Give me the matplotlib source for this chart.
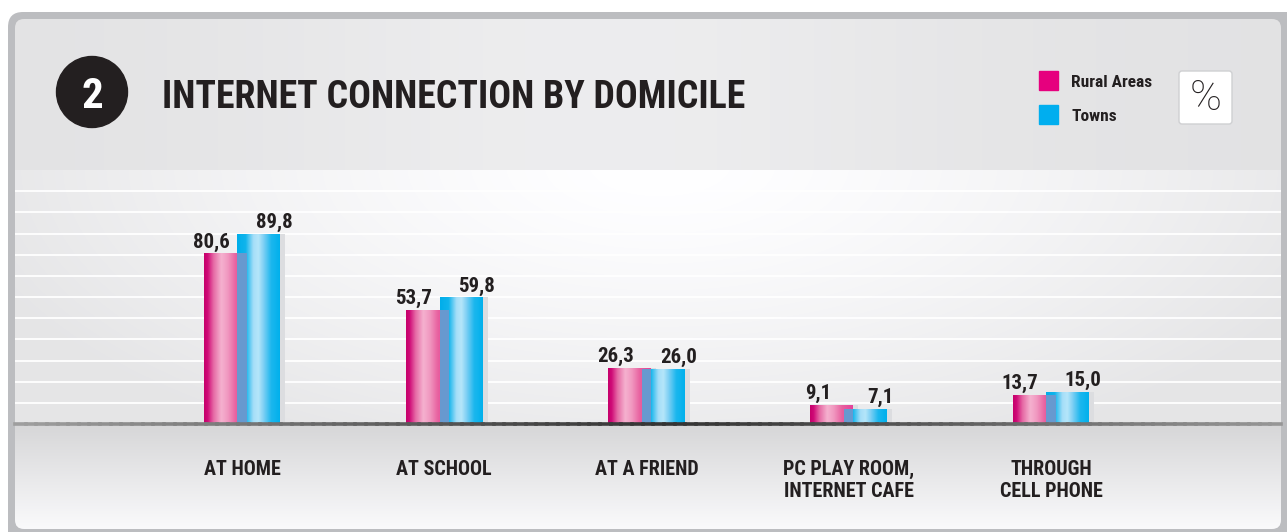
import numpy as np
import matplotlib.pyplot as plt
from matplotlib.colors import LinearSegmentedColormap
from matplotlib.patches import FancyBboxPatch, Rectangle, Circle
from matplotlib.collections import LineCollection
import logging

logging.getLogger('matplotlib.font_manager').setLevel(logging.ERROR)

categories = ['AT HOME', 'AT SCHOOL', 'AT A FRIEND',
              'PC PLAY ROOM,\nINTERNET CAFE', 'THROUGH\nCELL PHONE']
rural = [80.6, 53.7, 26.3, 9.1, 13.7]
towns = [89.8, 59.8, 26.0, 7.1, 15.0]
series_names = ['Rural Areas', 'Towns']

W, H = 1287, 532
NARROW = ['Roboto Condensed', 'Archivo Narrow', 'Liberation Sans Narrow', 'DejaVu Sans']
DARK = '#231f20'

fig = plt.figure(figsize=(W / 100, H / 100), dpi=100)
fig.patch.set_facecolor('white')

# background / card, in pixel coordinates
bg = fig.add_axes([0, 0, 1, 1])
bg.set_xlim(0, W)
bg.set_ylim(H, 0)
bg.axis('off')

outer = FancyBboxPatch((8, 12), 1300, 540, boxstyle='round,pad=0,rounding_size=15',
                       fc='#bcbdc0', ec='none')
bg.add_patch(outer)
inner = FancyBboxPatch((15, 19), 1266, 510, boxstyle='round,pad=0,rounding_size=9',
                       fc='none', ec='none')
bg.add_patch(inner)

yy, xx = np.mgrid[0:H, 0:W] + 0.5
hdr = (226 + 11 * np.exp(-((xx - 600) / 380) ** 2)) / 255
r = np.clip(np.sqrt(((xx - 660) / 720) ** 2 + ((yy - 165) / 320) ** 2), 0, 1)
band = (255 - 26 * r ** 1.4) / 255
bot = (214 + 36 * np.clip((yy - 424) / 105, 0, 1)) / 255
v = np.where(yy < 170, hdr, np.where(yy < 424, band, bot))
rgb = np.dstack([v, v, np.clip(v * 1.006, 0, 1)])
im = bg.imshow(rgb, extent=(0, W, H, 0), aspect='auto', zorder=1)
im.set_clip_path(inner)

# header
bg.add_patch(Circle((92, 92), 35.5, color=DARK, zorder=3))
bg.text(92, 108, '2', ha='center', va='baseline', fontsize=31, weight='bold',
        family=NARROW, color='white', zorder=4)
bg.text(162, 108, 'INTERNET CONNECTION BY DOMICILE', ha='left', va='baseline',
        fontsize=27.3, weight='bold', family=NARROW, color=DARK, zorder=4)

bg.add_patch(Rectangle((1039, 71), 19, 19, color='#e6007e', zorder=3))
bg.add_patch(Rectangle((1039, 105), 19, 19, color='#00aeef', zorder=3))
bg.text(1071, 87, series_names[0], va='baseline', fontsize=12.5, weight='bold',
        family=NARROW, color=DARK, zorder=4)
bg.text(1071, 121, series_names[1], va='baseline', fontsize=12.5, weight='bold',
        family=NARROW, color=DARK, zorder=4)
bg.add_patch(FancyBboxPatch((1179, 71), 53, 53, boxstyle='round,pad=0,rounding_size=3',
                            fc='white', ec='#cfd0d2', lw=1, zorder=3))
bg.text(1205.5, 98, '%', ha='center', va='center', fontsize=31, weight='light',
        family=['Roboto', 'Lato', 'DejaVu Sans'], color=DARK, zorder=4)

# data axes
ax = fig.add_axes([15 / W, 1 - 424 / H, (1281 - 15) / W, (424 - 170) / H])
ax.set_zorder(2)
ax.patch.set_alpha(0)
for s in ax.spines.values():
    s.set_visible(False)

x = np.arange(len(categories))
w = 0.2126
off = 0.084
sw = 0.024

pink_cmap = LinearSegmentedColormap.from_list('pink', [
    (0, '#c6006b'), (0.08, '#cf0a77'), (0.22, '#e66aa5'), (0.4, '#f5b1cf'),
    (0.55, '#f19ac1'), (0.75, '#e8609f'), (1, '#e4439a')])
blue_cmap = LinearSegmentedColormap.from_list('blue', [
    (0, '#00aeea'), (0.2, '#10b4ec'), (0.38, '#a5def8'), (0.5, '#b5e6fa'),
    (0.62, '#7fd0f4'), (0.8, '#1cb7ee'), (1, '#00b0ec')])


def fill_gradient(patch, cmap, z):
    x0, y0 = patch.get_x(), patch.get_y()
    pw, ph = patch.get_width(), patch.get_height()
    grad = np.linspace(0, 1, 128).reshape(1, -1)
    g = ax.imshow(grad, cmap=cmap, extent=(x0, x0 + pw, y0, y0 + ph),
                  aspect='auto', zorder=z, interpolation='bilinear')
    g.set_clip_path(patch)


# shadows
ax.bar(x - off + w / 2 + sw / 2, rural, width=sw, color='#dcdde0', zorder=2)
ax.bar(x + off + w / 2 + sw / 2, towns, width=sw, color='#dcdde0', zorder=2)

pink_bars = ax.bar(x - off, rural, width=w, color='#e6007e', zorder=3)
blue_bars = ax.bar(x + off, towns, width=w, color='#00aeef', zorder=4)
for p in pink_bars:
    fill_gradient(p, pink_cmap, 3.1)
for p in blue_bars:
    fill_gradient(p, blue_cmap, 4.1)

# overlap of the two bars
ax.bar(x, np.minimum(rural, towns), width=w - 2 * off, color='#6799cf', zorder=5)

for xi, rv, tv in zip(x, rural, towns):
    ax.annotate(f'{rv:.1f}'.replace('.', ','), (xi - off, rv), xytext=(-14, 6),
                textcoords='offset pixels', ha='center', va='baseline',
                fontsize=15, weight='bold', family=NARROW, color=DARK, zorder=7)
    ax.annotate(f'{tv:.1f}'.replace('.', ','), (xi + off, tv), xytext=(15, 6),
                textcoords='offset pixels', ha='center', va='baseline',
                fontsize=15, weight='bold', family=NARROW, color=DARK, zorder=7)

xl = ((15 - 242) / 202.25, (1281 - 242) / 202.25)

# baseline, darker in the middle
bx = np.linspace(xl[0], xl[1], 120)
segs = [[(bx[i], 0), (bx[i + 1], 0)] for i in range(len(bx) - 1)]
dist = np.clip(np.abs(bx[:-1] - 2.1) / 3.2, 0, 1)
gray = 0.2 + 0.42 * dist ** 1.1
lc = LineCollection(segs, colors=np.column_stack([gray, gray, gray]), linewidths=2.6,
                    zorder=6, clip_on=False, capstyle='projecting')
ax.add_collection(lc)

ax.set_yticks(np.arange(10, 120, 10))
ax.yaxis.grid(True, color='white', lw=1.3, zorder=0.5)
ax.set_axisbelow(True)
ax.tick_params(axis='y', left=False, labelleft=False)
ax.set_xticks(x, labels=categories)
ax.tick_params(axis='x', length=0, pad=26)
for t in ax.get_xticklabels():
    t.set_fontsize(14.5)
    t.set_fontweight('bold')
    t.set_family(NARROW)
    t.set_color(DARK)
    t.set_linespacing(1.2)

ax.set_xlim(*xl)
ax.set_ylim(0, 120)

fig.savefig('out.png', dpi=100)
